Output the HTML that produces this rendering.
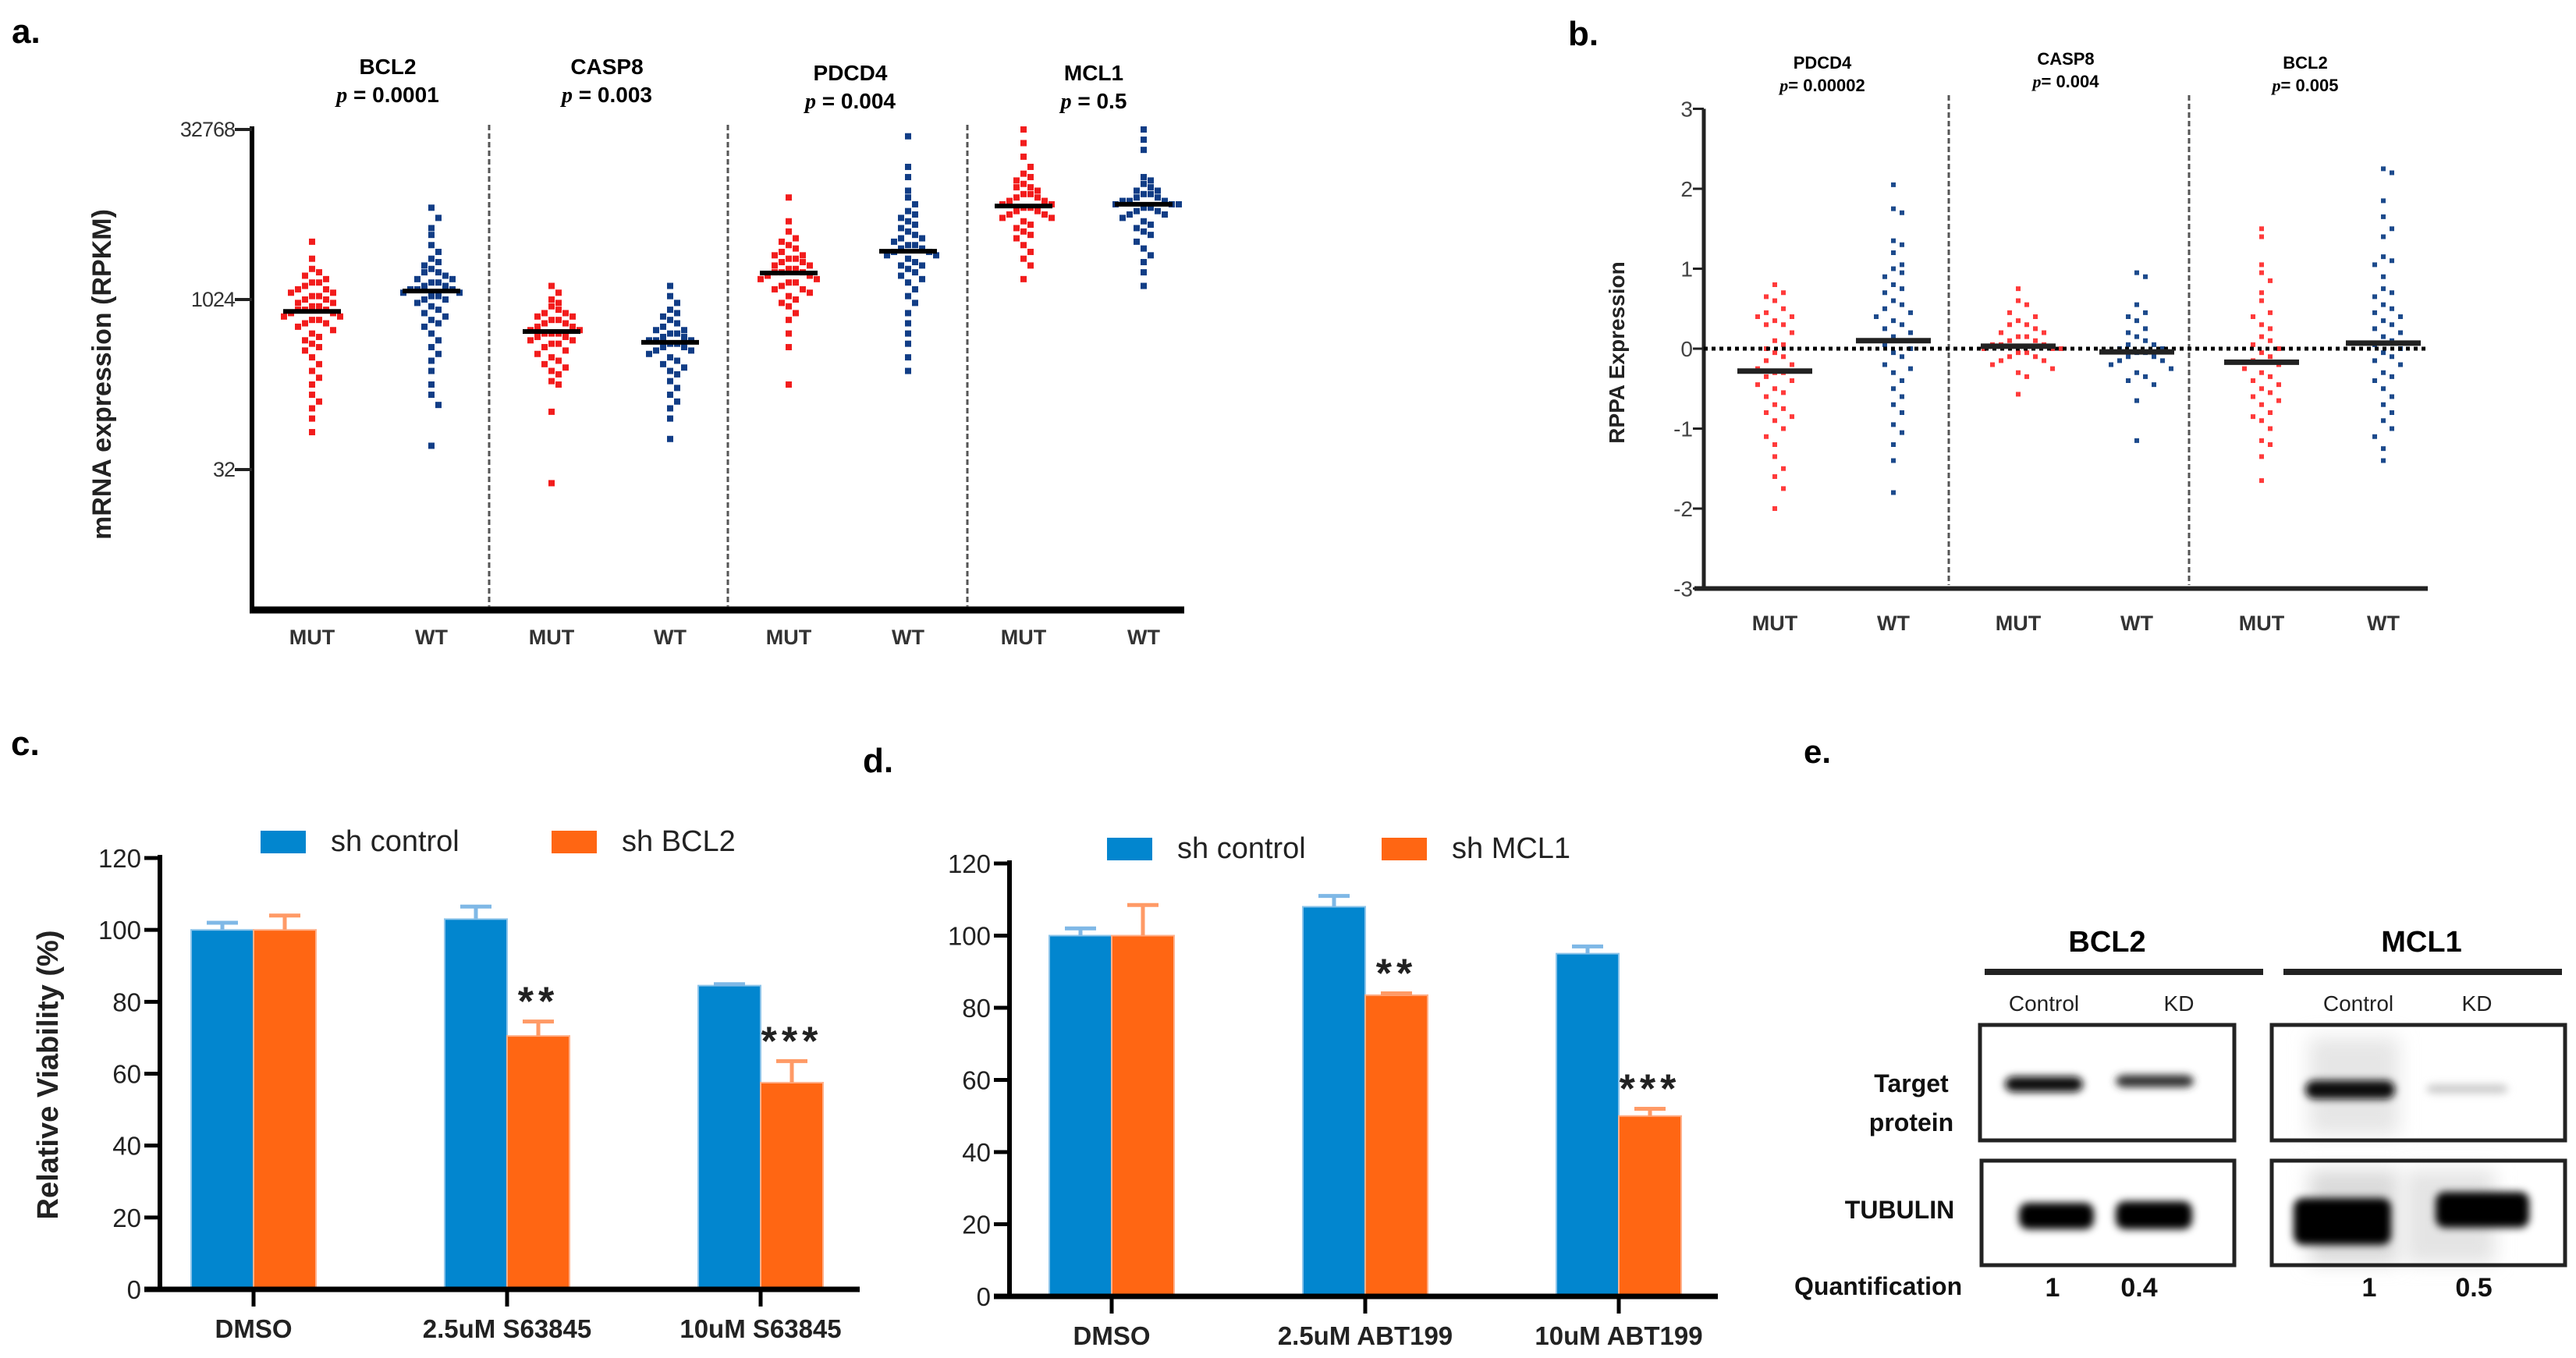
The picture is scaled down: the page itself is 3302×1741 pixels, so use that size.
<!DOCTYPE html>
<html><head><meta charset="utf-8">
<style>
html,body{margin:0;padding:0;background:#fff;width:3302px;height:1741px;overflow:hidden}
svg{display:block;font-family:"Liberation Sans",Arial,sans-serif}
</style></head>
<body>
<svg id="fig" width="3302" height="1741" viewBox="0 0 3302 1741" xmlns="http://www.w3.org/2000/svg">
<defs>
<filter id="blur3" x="-30%" y="-100%" width="160%" height="300%"><feGaussianBlur stdDeviation="5"/></filter>
<filter id="blur8" x="-30%" y="-100%" width="160%" height="300%"><feGaussianBlur stdDeviation="12"/></filter>
</defs>
<g id="pa"></g>
<g id="pb"></g>
<g id="pc"></g>
<g id="pd"></g>
<g id="pe"></g>
</svg>
<script>
// ---------- Panel a data (log2 RPKM) ----------
const aGenes = ["BCL2","CASP8","PDCD4","MCL1"];
const aPvals = ["0.0001","0.003","0.004","0.5"];
const aTickLabels = ["32768","1024","32"];
const aTickVals = [15,10,5];
const aBCL2_MUT = [11.7,11.2,10.9,10.8,10.7,10.6,10.5,10.5,10.4,10.3,10.3,10.2,10.2,10.1,10.1,10.0,10.0,9.9,9.9,9.8,9.8,9.7,9.7,9.7,9.6,9.6,9.5,9.5,9.4,9.4,9.3,9.3,9.2,9.1,9.0,8.9,8.8,8.7,8.6,8.5,8.3,8.1,7.9,7.7,7.5,7.2,7.0,6.8,6.5,6.1];
const aBCL2_WT = [12.7,12.4,12.1,11.9,11.6,11.4,11.2,11.1,11.0,10.9,10.8,10.8,10.7,10.6,10.6,10.5,10.5,10.4,10.4,10.3,10.3,10.3,10.2,10.2,10.1,10.1,10.0,10.0,9.9,9.8,9.7,9.6,9.5,9.4,9.3,9.2,9.0,8.8,8.6,8.4,8.2,7.9,7.5,7.2,6.9,5.7];
const aCASP8_MUT = [10.4,10.2,10.0,9.9,9.8,9.7,9.6,9.6,9.5,9.5,9.4,9.4,9.3,9.3,9.2,9.2,9.1,9.1,9.0,9.0,9.0,8.9,8.9,8.8,8.8,8.7,8.7,8.6,8.5,8.4,8.3,8.2,8.1,8.0,7.9,7.8,7.6,7.5,6.7,4.6];
const aCASP8_WT = [10.4,10.1,9.9,9.7,9.6,9.5,9.4,9.3,9.2,9.1,9.1,9.0,9.0,8.9,8.9,8.8,8.8,8.8,8.7,8.7,8.6,8.6,8.5,8.5,8.4,8.3,8.2,8.1,8.0,7.9,7.8,7.6,7.4,7.2,7.0,6.8,6.5,5.9];
const aPDCD4_MUT = [13.0,12.3,12.0,11.8,11.7,11.6,11.5,11.4,11.3,11.3,11.2,11.2,11.1,11.1,11.0,11.0,10.9,10.9,10.8,10.8,10.8,10.7,10.7,10.6,10.6,10.5,10.5,10.4,10.3,10.3,10.2,10.1,10.0,9.9,9.8,9.6,9.4,9.0,8.6,7.5];
const aPDCD4_WT = [14.8,13.9,13.6,13.2,13.0,12.8,12.6,12.5,12.4,12.3,12.2,12.1,12.0,11.9,11.8,11.8,11.7,11.6,11.6,11.5,11.5,11.4,11.4,11.3,11.3,11.2,11.1,11.0,11.0,10.9,10.8,10.7,10.6,10.5,10.3,10.1,9.9,9.6,9.3,9.0,8.7,8.3,7.9];
const aMCL1_MUT = [15.0,14.6,14.2,13.9,13.7,13.6,13.5,13.4,13.3,13.3,13.2,13.1,13.1,13.0,13.0,12.9,12.9,12.8,12.8,12.7,12.7,12.6,12.6,12.5,12.5,12.4,12.4,12.3,12.2,12.1,12.0,11.9,11.8,11.6,11.4,11.2,11.0,10.6];
const aMCL1_WT = [15.0,14.7,14.4,13.6,13.5,13.4,13.3,13.2,13.2,13.1,13.1,13.0,13.0,12.9,12.9,12.9,12.8,12.8,12.8,12.7,12.7,12.6,12.6,12.5,12.5,12.4,12.3,12.2,12.1,12.0,11.9,11.7,11.5,11.3,11.1,10.8,10.4];
const aMedians = [9.65,10.25,9.06,8.74,10.78,11.42,12.75,12.8];

// ---------- Panel b data (RPPA) ----------
const bGenes = ["PDCD4","CASP8","BCL2"];
const bPvals = ["0.00002","0.004","0.005"];
const bTicks = [3,2,1,0,-1,-2,-3];
const bPDCD4_MUT = [0.8,0.7,0.65,0.6,0.5,0.45,0.4,0.4,0.35,0.3,0.3,0.2,0.1,0.05,0,-0.05,-0.1,-0.15,-0.2,-0.25,-0.3,-0.3,-0.35,-0.4,-0.45,-0.5,-0.55,-0.6,-0.7,-0.75,-0.8,-0.85,-0.9,-1.0,-1.1,-1.2,-1.35,-1.5,-1.6,-1.75,-2.0];
const bPDCD4_WT = [2.05,1.75,1.7,1.35,1.3,1.2,1.05,1.0,0.95,0.9,0.8,0.75,0.7,0.6,0.55,0.5,0.45,0.4,0.35,0.3,0.25,0.2,0.15,0.1,0.05,0,-0.05,-0.1,-0.2,-0.25,-0.3,-0.4,-0.5,-0.6,-0.7,-0.8,-0.95,-1.05,-1.2,-1.4,-1.8];
const bCASP8_MUT = [0.75,0.6,0.55,0.45,0.4,0.35,0.3,0.3,0.25,0.2,0.2,0.15,0.15,0.1,0.1,0.05,0.05,0.05,0,0,0,-0.05,-0.05,-0.1,-0.1,-0.15,-0.15,-0.2,-0.25,-0.3,-0.35,-0.57];
const bCASP8_WT = [0.95,0.9,0.55,0.45,0.4,0.35,0.25,0.2,0.15,0.1,0.05,0.05,0,0,-0.05,-0.05,-0.1,-0.1,-0.15,-0.15,-0.2,-0.25,-0.3,-0.35,-0.4,-0.45,-0.65,-1.15];
const bBCL2_MUT = [1.5,1.4,1.05,0.95,0.85,0.7,0.6,0.45,0.4,0.3,0.25,0.15,0.1,0.05,0,-0.05,-0.1,-0.15,-0.2,-0.25,-0.3,-0.35,-0.4,-0.45,-0.5,-0.55,-0.6,-0.65,-0.7,-0.8,-0.85,-0.9,-1.0,-1.15,-1.2,-1.35,-1.65];
const bBCL2_WT = [2.25,2.2,1.85,1.65,1.5,1.4,1.15,1.1,1.05,0.9,0.75,0.7,0.65,0.55,0.5,0.45,0.4,0.35,0.3,0.25,0.2,0.15,0.1,0.05,0,-0.05,-0.1,-0.15,-0.2,-0.3,-0.35,-0.4,-0.5,-0.6,-0.7,-0.8,-0.9,-1.0,-1.1,-1.25,-1.4];
const bMedians = [-0.28,0.1,0.03,-0.04,-0.17,0.07];

// ---------- Panel c / d data ----------
const cCats = ["DMSO","2.5uM S63845","10uM S63845"];
const cCtrl = [100,103,84.5];
const cCtrlErr = [2,3.5,0.4];
const cKD = [100,70.5,57.5];
const cKDErr = [4,4,6];
const cStars = ["","**","***"];
const cLegend = ["sh control","sh BCL2"];
const dCats = ["DMSO","2.5uM ABT199","10uM ABT199"];
const dCtrl = [100,108,95];
const dCtrlErr = [2,3,2];
const dKD = [100,83.5,50];
const dKDErr = [8.5,0.5,2];
const dStars = ["","**","***"];
const dLegend = ["sh control","sh MCL1"];
const barTicks = [0,20,40,60,80,100,120];

// ---------- Panel e data ----------
const eQuantBCL2 = ["1","0.4"];
const eQuantMCL1 = ["1","0.5"];

const NS="http://www.w3.org/2000/svg";
function mk(parent,tag,attrs,text){const e=document.createElementNS(NS,tag);for(const k in attrs)e.setAttribute(k,attrs[k]);if(text!==undefined)e.textContent=text;parent.appendChild(e);return e;}

// ===== Panel A =====
(function(){
const g=document.getElementById('pa');
const x0=323,xEnd=1518,yTop=166,unit=43.6;
const yA=v=>yTop+(15-v)*unit;
const xs=[400,553,707,859,1011,1164,1312,1466];
const groups=[aBCL2_MUT,aBCL2_WT,aCASP8_MUT,aCASP8_WT,aPDCD4_MUT,aPDCD4_WT,aMCL1_MUT,aMCL1_WT];
let t=mk(g,'text',{x:15,y:55,'font-size':44,'font-weight':'bold'},'a.');

let ax=mk(g,'line',{x1:x0,y1:yTop-4,x2:x0,y2:782,stroke:'#000','stroke-width':6});

let xa=mk(g,'line',{x1:x0-3,y1:782,x2:xEnd,y2:782,stroke:'#000','stroke-width':9});

aTickVals.forEach((v,i)=>{
 const tk=mk(g,'line',{x1:x0-22,y1:yA(v),x2:x0,y2:yA(v),stroke:'#222','stroke-width':4});
 
 const tl=mk(g,'text',{x:x0-22,y:yA(v)+9,'text-anchor':'end','font-size':27,fill:'#333','letter-spacing':'-1'},aTickLabels[i]);
 
});
let yl=mk(g,'text',{x:0,y:0,transform:'translate(142,480) rotate(-90)','text-anchor':'middle','font-size':34,'font-weight':'bold',fill:'#222'},'mRNA expression (RPKM)');

[627,933,1240].forEach(x=>{
 const d=mk(g,'line',{x1:x,y1:160,x2:x,y2:778,stroke:'#555','stroke-width':3,'stroke-dasharray':'7 4'});
 
});
const titleX=[497,778,1090,1402],titleY=[95,95,103,103];
aGenes.forEach((gn,i)=>{
 const tt=mk(g,'text',{x:titleX[i],y:titleY[i],'text-anchor':'middle','font-size':28,'font-weight':'bold'},gn);
 
 const pt=mk(g,'text',{x:titleX[i],y:titleY[i]+36,'text-anchor':'middle','font-size':28,'font-weight':'bold'});
 
 mk(pt,'tspan',{'font-style':'italic','font-family':'Liberation Serif, serif'},'p');
 mk(pt,'tspan',{},' = '+aPvals[i]);
});
groups.forEach((vals,gi)=>{
 const col=gi%2===0?'#f21c1c':'#113d86';
 const bins={};
 vals.forEach(v=>{
  const y=yA(v);const b=Math.round(y/16);bins[b]=(bins[b]||0)+1;const k=bins[b]-1;
  const off=(k===0?0:Math.ceil(k/2)*(k%2?1:-1))*9;
  const r=mk(g,'rect',{x:xs[gi]+off-4,y:y-4,width:8,height:8,fill:col});
  
 });
 const m=mk(g,'line',{x1:xs[gi]-37,x2:xs[gi]+37,y1:yA(aMedians[gi]),y2:yA(aMedians[gi]),stroke:'#000','stroke-width':6});
 
 const xl=mk(g,'text',{x:xs[gi],y:826,'text-anchor':'middle','font-size':27,'font-weight':'bold',fill:'#333'},gi%2===0?'MUT':'WT');
 
});
})();

// ===== Panel B =====
(function(){
const g=document.getElementById('pb');
const x0=2184,xEnd=3112,y0=447,unit=102.5;
const yB=v=>y0-v*unit;
const xs=[2275,2427,2587,2739,2899,3055];
const groups=[bPDCD4_MUT,bPDCD4_WT,bCASP8_MUT,bCASP8_WT,bBCL2_MUT,bBCL2_WT];
let t=mk(g,'text',{x:2010,y:58,'font-size':44,'font-weight':'bold'},'b.');

let ax=mk(g,'line',{x1:x0,y1:yB(3),x2:x0,y2:yB(-3),stroke:'#222','stroke-width':5});

let xa=mk(g,'line',{x1:x0-12,y1:yB(-3),x2:xEnd,y2:yB(-3),stroke:'#222','stroke-width':6});

bTicks.forEach(v=>{
 const tk=mk(g,'line',{x1:x0-14,y1:yB(v),x2:x0,y2:yB(v),stroke:'#222','stroke-width':3});
 
 const tl=mk(g,'text',{x:x0-14,y:yB(v)+10,'text-anchor':'end','font-size':28,fill:'#444'},String(v));
 
});
let yl=mk(g,'text',{x:0,y:0,transform:'translate(2082,452) rotate(-90)','text-anchor':'middle','font-size':28,'font-weight':'bold',fill:'#222'},'RPPA Expression');

[2498,2806].forEach(x=>{
 const d=mk(g,'line',{x1:x,y1:122,x2:x,y2:750,stroke:'#555','stroke-width':3,'stroke-dasharray':'7 4'});
 
});
const tx=[2336,2648,2955],ty=[88,83,88];
bGenes.forEach((gn,i)=>{
 const tt=mk(g,'text',{x:tx[i],y:ty[i],'text-anchor':'middle','font-size':22,'font-weight':'bold'},gn);
 
 const pt=mk(g,'text',{x:tx[i],y:ty[i]+29,'text-anchor':'middle','font-size':22,'font-weight':'bold'});
 
 mk(pt,'tspan',{'font-style':'italic','font-family':'Liberation Serif, serif'},'p');
 mk(pt,'tspan',{},'= '+bPvals[i]);
});
groups.forEach((vals,gi)=>{
 const col=gi%2===0?'#ff3a3a':'#1c4a8c';
 const bins={};
 vals.forEach(v=>{
  const y=yB(v);const b=Math.round(y/22);bins[b]=(bins[b]||0)+1;const k=bins[b]-1;
  const off=(k===0?0:Math.ceil(k/2)*(k%2?1:-1))*11;
  const r=mk(g,'rect',{x:xs[gi]+off-3,y:y-3,width:6,height:6,fill:col});
  
 });
});
let z=mk(g,'line',{x1:x0,y1:y0,x2:xEnd,y2:y0,stroke:'#000','stroke-width':5,'stroke-dasharray':'5 5'});

xs.forEach((x,gi)=>{
 const m=mk(g,'line',{x1:x-48,x2:x+48,y1:yB(bMedians[gi]),y2:yB(bMedians[gi]),stroke:'#222','stroke-width':7});
 
 const xl=mk(g,'text',{x:x,y:808,'text-anchor':'middle','font-size':27,'font-weight':'bold',fill:'#333'},gi%2===0?'MUT':'WT');
 
});
})();

// ===== Panels C / D =====
function barPanel(id,opt){
const g=document.getElementById(id);
const {x0,xEnd,yZero,yTop,centers,ctrl,ctrlErr,kd,kdErr,stars,cats,legend,letter,lx,ly,leg}=opt;
const yS=v=>yZero-(yZero-yTop)*v/120;
const bw=80;
let t=mk(g,'text',{x:lx,y:ly,'font-size':44,'font-weight':'bold'},letter);

centers.forEach((c,i)=>{
 const b1=mk(g,'rect',{x:c-bw,y:yS(ctrl[i]),width:bw,height:yZero-yS(ctrl[i]),fill:'#0286cf',stroke:'#8cc4ea','stroke-width':2});
 
 const e1=mk(g,'path',{d:`M${c-bw/2},${yS(ctrl[i])} V${yS(ctrl[i]+ctrlErr[i])} M${c-bw/2-20},${yS(ctrl[i]+ctrlErr[i])} H${c-bw/2+20}`,stroke:'#7fb8e6','stroke-width':5,fill:'none'});
 
 const b2=mk(g,'rect',{x:c,y:yS(kd[i]),width:bw,height:yZero-yS(kd[i]),fill:'#ff6613',stroke:'#ffb08a','stroke-width':2});
 
 const e2=mk(g,'path',{d:`M${c+bw/2},${yS(kd[i])} V${yS(kd[i]+kdErr[i])} M${c+bw/2-20},${yS(kd[i]+kdErr[i])} H${c+bw/2+20}`,stroke:'#ff9a66','stroke-width':5,fill:'none'});
 
 if(stars[i]){
  const s=mk(g,'text',{x:c+bw/2,y:yS(kd[i]+kdErr[i])-8,'text-anchor':'middle','font-size':52,'font-weight':'bold',fill:'#222','letter-spacing':'6'},stars[i]);
  
 }
 const tk=mk(g,'line',{x1:c,y1:yZero,x2:c,y2:yZero+22,stroke:'#000','stroke-width':5});
 
 const xl=mk(g,'text',{x:c,y:yZero+62,'text-anchor':'middle','font-size':33,'font-weight':'bold',fill:'#222'},cats[i]);
 
});
let ax=mk(g,'line',{x1:x0,y1:yTop-4,x2:x0,y2:yZero,stroke:'#000','stroke-width':6});

let xa=mk(g,'line',{x1:x0-20,y1:yZero,x2:xEnd,y2:yZero,stroke:'#000','stroke-width':7});

barTicks.forEach(v=>{
 const tk=mk(g,'line',{x1:x0-20,y1:yS(v),x2:x0,y2:yS(v),stroke:'#000','stroke-width':5});
 
 const tl=mk(g,'text',{x:x0-24,y:yS(v)+12,'text-anchor':'end','font-size':33,fill:'#222'},String(v));
 
});
const l1=mk(g,'rect',{x:leg[0],y:leg[4],width:58,height:29,fill:'#0286cf'});

const lt1=mk(g,'text',{x:leg[1],y:leg[4]+26,'font-size':38,fill:'#222'},legend[0]);

const l2=mk(g,'rect',{x:leg[2],y:leg[4],width:58,height:29,fill:'#ff6613'});

const lt2=mk(g,'text',{x:leg[3],y:leg[4]+26,'font-size':38,fill:'#222'},legend[1]);

if(opt.ylabel){
 const yl=mk(g,'text',{x:0,y:0,transform:`translate(${opt.ylx},${opt.yly}) rotate(-90)`,'text-anchor':'middle','font-size':38,'font-weight':'bold',fill:'#222'},opt.ylabel);
 
}
}
barPanel('pc',{x0:205,xEnd:1102,yZero:1653,yTop:1100,centers:[325,650,975],ctrl:cCtrl,ctrlErr:cCtrlErr,kd:cKD,kdErr:cKDErr,stars:cStars,cats:cCats,legend:cLegend,letter:'c.',lx:14,ly:968,leg:[334,424,707,797,1065],ylabel:'Relative Viability (%)',ylx:74,yly:1378});
barPanel('pd',{x0:1294,xEnd:2202,yZero:1662,yTop:1107,centers:[1425,1750,2075],ctrl:dCtrl,ctrlErr:dCtrlErr,kd:dKD,kdErr:dKDErr,stars:dStars,cats:dCats,legend:dLegend,letter:'d.',lx:1106,ly:990,leg:[1419,1509,1771,1861,1074]});

// ===== Panel E =====
(function(){
const g=document.getElementById('pe');
const f='"Liberation Sans Narrow","Liberation Sans",sans-serif';
let t=mk(g,'text',{x:2312,y:978,'font-size':42,'font-weight':'bold'},'e.');

[[2701,'BCL2'],[3104,'MCL1']].forEach(([x,s])=>{
 const h=mk(g,'text',{x:x,y:1220,'text-anchor':'middle','font-size':38,'font-weight':'bold','font-family':f},s);
 
});
[[2544,2901],[2927,3284]].forEach(([a,b])=>{
 const l=mk(g,'line',{x1:a,y1:1246,x2:b,y2:1246,stroke:'#222','stroke-width':8});
 
});
[[2620,'Control'],[2793,'KD'],[3023,'Control'],[3175,'KD']].forEach(([x,s])=>{
 const h=mk(g,'text',{x:x,y:1296,'text-anchor':'middle','font-size':28,'font-family':f,fill:'#222'},s);
 
});
const boxes=[[2538,1314,326,148,'target-blot-bcl2'],[2912,1314,376,148,'target-blot-mcl1'],[2540,1488,324,134,'tubulin-blot-bcl2'],[2912,1488,376,134,'tubulin-blot-mcl1']];
mk(g,'rect',{x:2960,y:1330,width:115,height:125,fill:'#e6e6e6',filter:'url(#blur8)'});
mk(g,'rect',{x:2960,y:1500,width:115,height:120,fill:'#dadada',filter:'url(#blur8)'});
mk(g,'rect',{x:3083,y:1500,width:115,height:120,fill:'#e4e4e4',filter:'url(#blur8)'});
const bands=[[2570,1380,100,20,'#111','blur3'],[2712,1378,100,16,'#333','blur3'],[2955,1385,115,24,'#111','blur3'],[3110,1390,105,12,'#ccc','blur3'],
 [2588,1542,96,34,'#000','blur3'],[2712,1540,98,36,'#000','blur3'],[2940,1536,125,60,'#000','blur3'],[3122,1528,120,46,'#000','blur3']];
bands.forEach(b=>{
 const r=mk(g,'rect',{x:b[0],y:b[1],width:b[2],height:b[3],rx:12,fill:b[4],filter:'url(#'+b[5]+')'});
 
});
boxes.forEach(b=>{
 const r=mk(g,'rect',{x:b[0],y:b[1],width:b[2],height:b[3],fill:'none',stroke:'#222','stroke-width':5});
 
});
[['Target',2450,1400],['protein',2450,1450],['TUBULIN',2435,1562]].forEach(([s,x,y])=>{
 const h=mk(g,'text',{x:x,y:y,'text-anchor':'middle','font-size':32,'font-weight':'bold','font-family':f,fill:'#111'},s);
 
});
let q=mk(g,'text',{x:2300,y:1660,'font-size':32,'font-weight':'bold','font-family':f,fill:'#111'},'Quantification');

const qx=[2631,2742,3037,3171],qv=eQuantBCL2.concat(eQuantMCL1);
qv.forEach((v,i)=>{
 const h=mk(g,'text',{x:qx[i],y:1662,'text-anchor':'middle','font-size':34,'font-weight':'bold','font-family':f,fill:'#111'},v);
 
});
})();
</script>
</body></html>
